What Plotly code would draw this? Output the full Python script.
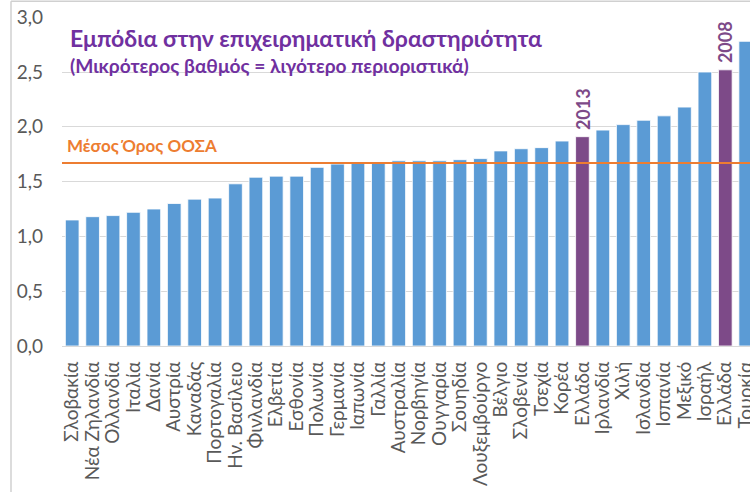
import plotly.graph_objects as go

countries = ["Σλοβακία", "Νέα Ζηλανδία", "Ολλανδία", "Ιταλία", "Δανία", "Αυστρία", "Καναδάς",
             "Πορτογαλία", "Ην. Βασίλειο", "Φινλανδία", "Ελβετία", "Εσθονία", "Πολωνία",
             "Γερμανία", "Ιαπωνία", "Γαλλία", "Αυστραλία", "Νορβηγία", "Ουγγαρία", "Σουηδία",
             "Λουξεμβούργο", "Βέλγιο", "Σλοβενία", "Τσεχία", "Κορέα", "Ελλάδα", "Ιρλανδία",
             "Χιλή", "Ισλανδία", "Ισπανία", "Μεξικό", "Ισραήλ", "Ελλάδα", "Τουρκία"]
values = [1.15, 1.18, 1.19, 1.22, 1.25, 1.30, 1.34, 1.35, 1.48, 1.54, 1.55, 1.55, 1.63,
          1.66, 1.67, 1.68, 1.69, 1.69, 1.69, 1.70, 1.71, 1.78, 1.80, 1.81, 1.87, 1.91,
          1.97, 2.02, 2.06, 2.10, 2.18, 2.50, 2.52, 2.78]
highlight_years = {25: "2013", 32: "2008"}
oecd_avg = 1.67

title_text = "Εμπόδια στην επιχειρηματική δραστηριότητα"
subtitle_text = "(Μικρότερος βαθμός = λιγότερο περιοριστικά)"
avg_label = "Μέσος Όρος ΟΟΣΑ"
y_ticks = [0, 0.5, 1.0, 1.5, 2.0, 2.5, 3.0]

BLUE = "#5B9BD5"
PURPLE_BAR = "#7D4A88"
PURPLE_TXT = "#7030A0"
ORANGE = "#ED7D31"
GREY = "#595959"
FONT = "Lato, 'Noto Sans', sans-serif"

idx = list(range(len(countries)))
colors = [PURPLE_BAR if i in highlight_years else BLUE for i in idx]

W, H = 750, 492
L, R, T, B = 62, 0, 17.3, 146
PW = W - L - R
PH = H - T - B

fig = go.Figure()
fig.add_trace(go.Bar(
    x=idx, y=values, marker=dict(color=colors, line=dict(color="white", width=0.8)),
    hoverinfo="skip"))

fig.add_shape(type="line", xref="paper", yref="y", x0=0, x1=1, y0=oecd_avg, y1=oecd_avg,
              line=dict(color=ORANGE, width=2))

for i, yr in highlight_years.items():
    fig.add_annotation(x=i, y=values[i], text="<b>" + yr + "</b>", textangle=-90,
                       showarrow=False, xanchor="center", yanchor="bottom", yshift=5,
                       font=dict(family=FONT, size=18, color=PURPLE_BAR))

fig.add_annotation(xref="paper", yref="paper", x=0.008, y=0.937, xanchor="left", yanchor="middle",
                   text="<b>" + title_text + "</b>", showarrow=False,
                   font=dict(family=FONT, size=23, color=PURPLE_TXT))
fig.add_annotation(xref="paper", yref="paper", x=0.008, y=0.853, xanchor="left", yanchor="middle",
                   text="<b>" + subtitle_text + "</b>", showarrow=False,
                   font=dict(family=FONT, size=19.2, color=PURPLE_TXT))
fig.add_annotation(xref="paper", yref="y", x=0.005, y=oecd_avg, xanchor="left", yanchor="bottom",
                   yshift=5, text="<b>" + avg_label + "</b>", showarrow=False,
                   font=dict(family=FONT, size=17, color=ORANGE))

# slide frame (left and top border)
fig.add_shape(type="line", xref="paper", yref="paper", x0=(11 - L) / PW, x1=(11 - L) / PW,
              y0=-1, y1=(H - B - 1.5) / PH, line=dict(color="#D0D0D0", width=1.5))
fig.add_shape(type="line", xref="paper", yref="paper", x0=(11 - L) / PW, x1=1.05,
              y0=(H - B - 1.5) / PH, y1=(H - B - 1.5) / PH, line=dict(color="#D0D0D0", width=1.5))

fig.update_layout(
    width=W, height=H,
    margin=dict(l=L, r=R, t=T, b=B, autoexpand=False),
    paper_bgcolor="white", plot_bgcolor="white",
    separators=",.",
    showlegend=False,
    bargap=0.33,
    font=dict(family=FONT, color=GREY),
    xaxis=dict(range=[-0.5, 33.21], tickmode="array", tickvals=idx, ticktext=countries,
               tickangle=-90, tickfont=dict(size=19, color=GREY), showgrid=False,
               showline=False, ticks="", zeroline=False, fixedrange=True,
               automargin=False, ticklabelstandoff=11, ticklabeloverflow="allow"),
    yaxis=dict(range=[0, 3.002], tickvals=y_ticks, tickformat=".1f",
               tickfont=dict(size=19, color=GREY), showgrid=True, gridcolor="#D9D9D9",
               gridwidth=1, zeroline=True, zerolinecolor="#D9D9D9", zerolinewidth=1,
               showline=False, ticks="", ticklabelstandoff=18, fixedrange=True,
               automargin=False, ticklabeloverflow="allow"),
)

page_css = "document.body.style.margin='0';document.body.style.overflow='hidden';"
fig.write_html("out.html", post_script=page_css, config={"displayModeBar": False})
